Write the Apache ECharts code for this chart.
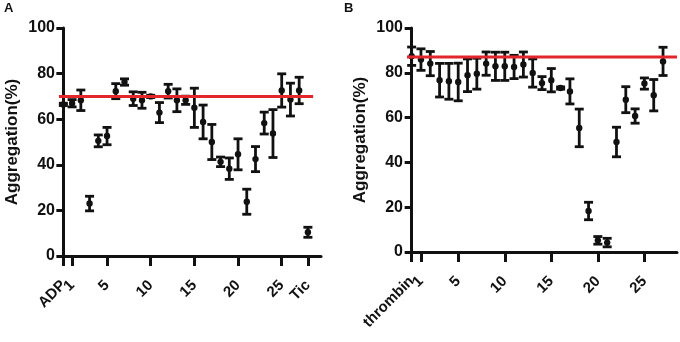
<!DOCTYPE html>
<html>
<head>
<meta charset="utf-8">
<script src="https://cdn.jsdelivr.net/npm/echarts@6/dist/echarts.min.js"></script>
<style>
  html, body { margin: 0; padding: 0; background: #fff; }
  #chart { width: 680px; height: 342px; }
</style>
</head>
<body>
<div id="chart"></div>
<script>
// panel A: ADP (0), compounds 1-27, Tic (28)
const meanA = [66.5, 67, 68.3, 23, 50.5, 52.6, 72.3, 76.3, 69, 68.3, 70, 62.9, 72.3, 68.3, 68.3,
  65, 58.8, 50, 41.3, 38.3, 44.6, 23.8, 42.5, 58.3, 53.7, 72.6, 68.6, 72.6, 10.4];
const errA = [0.5, 1.6, 4.5, 3.2, 2.6, 3.8, 3.3, 1.4, 3, 3.5, 0.5, 4.4, 3, 5, 1.8,
  8.6, 7.4, 7.7, 2.1, 4.7, 6.8, 5.5, 5.5, 4.8, 10.5, 7.3, 7.2, 5.8, 2.2];
// panel B: thrombin (0), compounds 1-27
const meanB = [87.4, 85.9, 84.1, 76.7, 76.2, 75.9, 78.9, 79.6, 84.1, 82.9, 82.9, 82.6, 83.7, 79.9,
  75.4, 76.7, 73.2, 71.7, 55.4, 18.3, 5.2, 4.2, 49.1, 68, 60.7, 75.2, 70, 85.1];
const errB = [4.1, 4.8, 5.4, 7.5, 8, 8.4, 7.3, 6.9, 5.2, 6.3, 6.3, 5.2, 5.6, 6.3,
  2.9, 5.2, 0.5, 5.6, 8.4, 3.9, 1.7, 1.9, 6.6, 5.8, 3.2, 2.5, 7, 6.3];
const ticksA = [0, 1, 5, 10, 15, 20, 25, 28];
const ticksB = [0, 1, 5, 10, 15, 20, 25];
const namesA = { 0: 'ADP', 28: 'Tic' };
const namesB = { 0: 'thrombin' };
const refA = 70;
const refB = 87;

const chart = echarts.init(document.getElementById('chart'));
const font = '"Liberation Sans", Arial, sans-serif';
const ink = '#111';

function errorBar(params, api) {
  const x = api.value(0), m = api.value(1), e = api.value(2);
  const top = api.coord([x, m + e]);
  const bot = api.coord([x, m - e]);
  const mid = api.coord([x, m]);
  const w = 4.5;
  const st = { stroke: ink, lineWidth: 2.8 };
  return {
    type: 'group',
    children: [
      { type: 'line', shape: { x1: top[0], y1: top[1], x2: bot[0], y2: bot[1] }, style: st },
      { type: 'line', shape: { x1: top[0] - w, y1: top[1], x2: top[0] + w, y2: top[1] }, style: st },
      { type: 'line', shape: { x1: bot[0] - w, y1: bot[1], x2: bot[0] + w, y2: bot[1] }, style: st },
      { type: 'circle', shape: { cx: mid[0], cy: mid[1], r: 3.2 }, style: { fill: ink } }
    ]
  };
}

function labelStyle(names) {
  return {
    rotate: 45, margin: 27, color: ink,
    showMinLabel: true, showMaxLabel: true, hideOverlap: false,
    fontFamily: font, fontWeight: 'bold', fontSize: 15,
    formatter: (v) => names[v] || String(v)
  };
}

// main axis: line and every label but "1" (it collides with the first label)
function xAxis(idx, min, max, ticks, names) {
  return {
    type: 'value', gridIndex: idx, min: min, max: max, position: 'bottom',
    splitLine: { show: false },
    axisLine: { onZero: false, lineStyle: { color: ink, width: 3 } },
    axisTick: { show: false },
    axisLabel: Object.assign(labelStyle(names), { customValues: ticks.filter((t) => t !== 1) })
  };
}

// overlay axis carrying only the "1" label
function xAxisOne(idx, min, max, names) {
  return {
    type: 'value', gridIndex: idx, min: min, max: max, position: 'bottom', offset: 0,
    splitLine: { show: false },
    axisLine: { show: false, onZero: false },
    axisTick: { show: false },
    axisLabel: Object.assign(labelStyle(names), { customValues: [1] })
  };
}

// overlay category axis (one band per unit, min = -0.5) that draws the tick marks
function xAxisTicks(idx, count, ticks) {
  return {
    type: 'category', gridIndex: idx, position: 'bottom', boundaryGap: true,
    data: Array.from({ length: count }, (_, i) => String(i)),
    axisLine: { show: false, onZero: false },
    axisTick: {
      show: true, alignWithLabel: true, length: 10,
      interval: (i) => ticks.includes(i),
      lineStyle: { color: ink, width: 3 }
    },
    axisLabel: { show: false },
    splitLine: { show: false }
  };
}

function yAxis(idx) {
  return {
    type: 'value', gridIndex: idx, min: 0, max: 100, interval: 20,
    name: 'Aggregation(%)', nameLocation: 'middle', nameGap: 38,
    nameTextStyle: { fontFamily: font, fontWeight: 'bold', fontSize: 17, color: ink },
    splitLine: { show: false },
    axisLine: { show: true, lineStyle: { color: ink, width: 3 } },
    axisTick: { show: true, length: 7, lineStyle: { color: ink, width: 3 } },
    axisLabel: { color: ink, fontFamily: font, fontWeight: 'bold', fontSize: 16, margin: 4 }
  };
}

const option = {
  animation: false,
  backgroundColor: '#fff',
  graphic: [
    { type: 'text', left: 4, top: 2, style: { text: 'A', font: 'bold 13px "Liberation Sans", Arial', fill: ink } },
    { type: 'text', left: 344, top: 2, style: { text: 'B', font: 'bold 13px "Liberation Sans", Arial', fill: ink } }
  ],
  grid: [
    { left: 59, top: 28, width: 262, height: 228 },
    { left: 407, top: 28, width: 270, height: 224 }
  ],
  xAxis: [
    xAxis(0, -0.5, 29.5, ticksA, namesA),
    xAxis(1, -0.5, 28.5, ticksB, namesB),
    xAxisOne(0, -0.5, 29.5, namesA),
    xAxisOne(1, -0.5, 28.5, namesB),
    xAxisTicks(0, 30, ticksA),
    xAxisTicks(1, 29, ticksB)
  ],
  yAxis: [yAxis(0), yAxis(1)],
  series: [
    {
      type: 'custom', xAxisIndex: 0, yAxisIndex: 0, renderItem: errorBar, clip: false,
      data: meanA.map((m, i) => [i, m, errA[i]])
    },
    {
      type: 'custom', xAxisIndex: 1, yAxisIndex: 1, renderItem: errorBar, clip: false,
      data: meanB.map((m, i) => [i, m, errB[i]])
    },
    {
      type: 'line', xAxisIndex: 0, yAxisIndex: 0, symbol: 'none', z: 5,
      lineStyle: { color: '#e3262b', width: 3 },
      data: [[-0.5, refA], [28.6, refA]]
    },
    {
      type: 'line', xAxisIndex: 1, yAxisIndex: 1, symbol: 'none', z: 5,
      lineStyle: { color: '#e3262b', width: 3 },
      data: [[-0.5, refB], [28.5, refB]]
    }
  ]
};

chart.setOption(option);
</script>
</body>
</html>
